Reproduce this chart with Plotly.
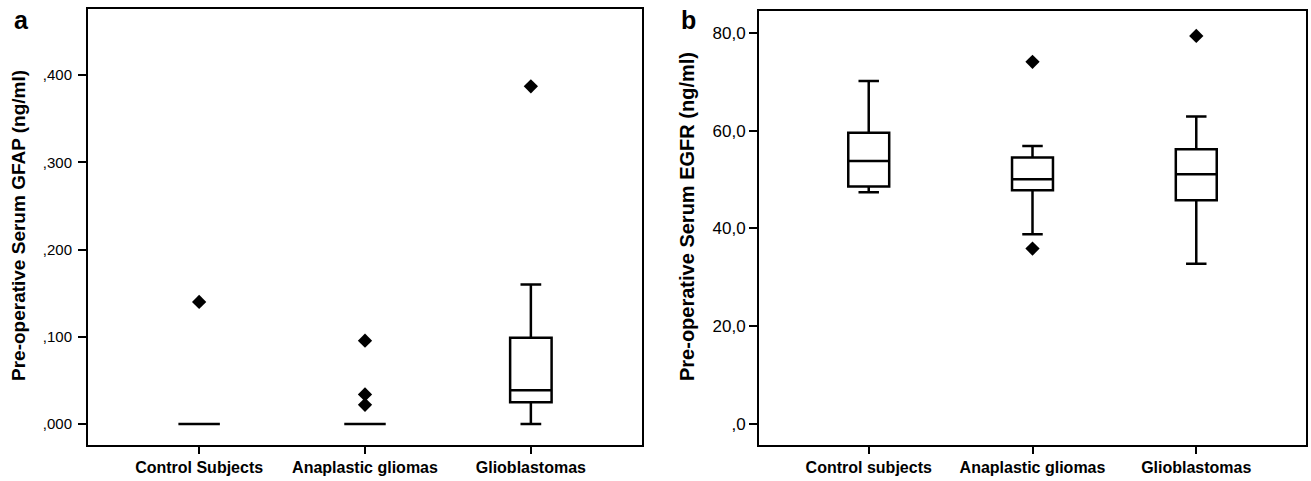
import plotly.graph_objects as go

W, H = 1311, 481

# ---------------- data ----------------
categories_a = ["Control Subjects", "Anaplastic gliomas", "Glioblastomas"]
gfap_lowerfence = [0.0, 0.0, 0.0]
gfap_q1 = [0.0, 0.0, 0.025]
gfap_median = [0.0, 0.0, 0.0386]
gfap_q3 = [0.0, 0.0, 0.099]
gfap_upperfence = [0.0, 0.0, 0.160]
gfap_outlier_group = [0, 1, 1, 1, 2]
gfap_outlier_value = [0.140, 0.0955, 0.034, 0.022, 0.387]
gfap_tickvals = [0.0, 0.1, 0.2, 0.3, 0.4]
gfap_ticktext = [",000", ",100", ",200", ",300", ",400"]

categories_b = ["Control subjects", "Anaplastic gliomas", "Glioblastomas"]
egfr_lowerfence = [47.4, 38.8, 32.8]
egfr_q1 = [48.6, 47.8, 45.8]
egfr_median = [53.8, 50.1, 51.1]
egfr_q3 = [59.6, 54.5, 56.2]
egfr_upperfence = [70.2, 56.9, 62.9]
egfr_outlier_group = [1, 1, 2]
egfr_outlier_value = [74.1, 35.9, 79.4]
egfr_tickvals = [0, 20, 40, 60, 80]
egfr_ticktext = [",0", "20,0", "40,0", "60,0", "80,0"]

# ---------------- figure ----------------
FONT = "Liberation Sans, Arial, sans-serif"
fig = go.Figure()

def add_panel(xa, ya, lf, q1, med, q3, uf, og, ov):
    for i in range(len(med)):
        fig.add_trace(go.Box(
            x=[i], q1=[q1[i]], median=[med[i]], q3=[q3[i]],
            lowerfence=[lf[i]], upperfence=[uf[i]],
            width=0.25, whiskerwidth=0.5,
            fillcolor="white", line=dict(color="black", width=2.5),
            boxpoints=False, xaxis=xa, yaxis=ya,
            showlegend=False, hoverinfo="skip"))
    fig.add_trace(go.Scatter(
        x=og, y=ov, mode="markers",
        marker=dict(symbol="diamond", size=11, color="black"),
        xaxis=xa, yaxis=ya, showlegend=False, hoverinfo="skip"))

add_panel("x", "y", gfap_lowerfence, gfap_q1, gfap_median, gfap_q3,
          gfap_upperfence, gfap_outlier_group, gfap_outlier_value)
add_panel("x2", "y2", egfr_lowerfence, egfr_q1, egfr_median, egfr_q3,
          egfr_upperfence, egfr_outlier_group, egfr_outlier_value)

common_x = dict(range=[-0.67, 2.67], tickvals=[0, 1, 2], showline=True,
                mirror=True, linecolor="black", linewidth=2, ticks="outside",
                ticklen=7, tickwidth=1.5, tickcolor="black", showgrid=False,
                zeroline=False,
                tickfont=dict(family=FONT, size=16, color="black", weight="bold"))
common_y = dict(showline=True, mirror=True, linecolor="black", linewidth=2,
                ticks="outside", ticklen=8, tickwidth=1.5, tickcolor="black",
                showgrid=False, zeroline=False)

fig.update_layout(
    width=W, height=H,
    margin=dict(l=0, r=0, t=0, b=0),
    paper_bgcolor="white", plot_bgcolor="white",
    xaxis=dict(domain=[88 / W, 642 / W], anchor="y",
               ticktext=categories_a, **common_x),
    yaxis=dict(domain=[(H - 445) / H, (H - 9) / H], anchor="x",
               range=[-0.024, 0.4756], tickvals=gfap_tickvals,
               ticktext=gfap_ticktext, ticklabelstandoff=3,
               tickfont=dict(family=FONT, size=15, color="black"), **common_y),
    xaxis2=dict(domain=[759 / W, 1306 / W], anchor="y2",
                ticktext=categories_b, **common_x),
    yaxis2=dict(domain=[(H - 445) / H, (H - 11) / H], anchor="x2",
                range=[-4.3, 84.5], tickvals=egfr_tickvals,
                ticktext=egfr_ticktext, ticklabelstandoff=0,
                tickfont=dict(family=FONT, size=17, color="black"), **common_y),
    font=dict(family=FONT, color="black"),
)

annos = [
    dict(text="a", x=21 / W, y=1 - 20 / H, size=25),
    dict(text="b", x=688 / W, y=1 - 20 / H, size=25),
]
for a in annos:
    fig.add_annotation(text=a["text"], x=a["x"], y=a["y"], xref="paper",
                       yref="paper", showarrow=False, xanchor="center",
                       yanchor="middle",
                       font=dict(family=FONT, size=a["size"], color="black",
                                 weight="bold"))

fig.add_annotation(text="Pre-operative Serum GFAP (ng/ml)", x=18 / W,
                   y=1 - 226 / H, xref="paper", yref="paper", textangle=-90,
                   showarrow=False, xanchor="center", yanchor="middle",
                   font=dict(family=FONT, size=19, color="black", weight="bold"))
fig.add_annotation(text="Pre-operative Serum EGFR (ng/ml)", x=687 / W,
                   y=1 - 217 / H, xref="paper", yref="paper", textangle=-90,
                   showarrow=False, xanchor="center", yanchor="middle",
                   font=dict(family=FONT, size=20, color="black", weight="bold"))

fig.write_html("out.html")
